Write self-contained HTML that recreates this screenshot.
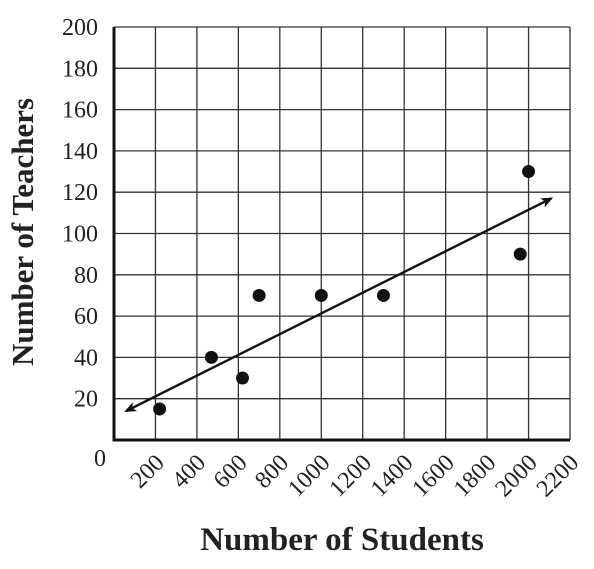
<!DOCTYPE html>
<html><head><meta charset="utf-8"><style>
body{margin:0;background:#fff}
text{font-family:"Liberation Serif",serif;fill:#222}
</style></head><body>
<svg id="c" width="594" height="564" viewBox="0 0 594 564">
<defs><marker id="ah" markerWidth="12" markerHeight="10" refX="10" refY="5" orient="auto-start-reverse" markerUnits="userSpaceOnUse"><path d="M0,0 L12,5 L0,10 L3,5 Z" fill="#111"/></marker></defs>
<g id="grid"></g><g id="pts"></g>
<text x="342" y="550" text-anchor="middle" font-size="33" font-weight="bold">Number of Students</text>
<text transform="translate(33,232) rotate(-90)" text-anchor="middle" font-size="31" font-weight="bold">Number of Teachers</text>
</svg>
<script>
const xTicks=[200,400,600,800,1000,1200,1400,1600,1800,2000,2200];
const yTicks=[0,20,40,60,80,100,120,140,160,180,200];
const studentsX=[220,470,620,700,1000,1300,1960,2000];
const teachersY=[15,40,30,70,70,70,90,130];
const trendX=[58,2110];
const trendY=[14,117];
const L=114,R=570,T=27,B=440;
const sx=v=>L+v/2200*(R-L), sy=v=>B-v/200*(B-T);
const NS="http://www.w3.org/2000/svg";
const g=document.getElementById('grid'), p=document.getElementById('pts');
function mk(t,a,par){const e=document.createElementNS(NS,t);for(const k in a)e.setAttribute(k,a[k]);par.appendChild(e);return e;}
xTicks.forEach(v=>{
 const l=mk('line',{x1:sx(v),x2:sx(v),y1:T,y2:B,stroke:'#333','stroke-width':1.3},g);
 
 
 const ax0=sx(v)+10, ay0=B+24;
 const t=mk('text',{x:ax0,y:ay0,'font-size':24,'text-anchor':'end',transform:`rotate(-45 ${ax0} ${ay0})`},g);
 t.textContent=v;
 
 
});
yTicks.forEach(v=>{
 if(v>0){const l=mk('line',{x1:L,x2:R,y1:sy(v),y2:sy(v),stroke:'#333','stroke-width':1.3},g);
 
 }
 const t=mk('text',{x:v===0?106:98,y:v===0?sy(v)+26:sy(v)+8,'font-size':24,'text-anchor':'end'},g);
 t.textContent=v;
 
 
});
const ax=mk('path',{d:`M${L},${T} V${B} H${R}`,fill:'none',stroke:'#111','stroke-width':3},g);


studentsX.forEach((v,i)=>{
 const c=mk('circle',{cx:sx(v),cy:sy(teachersY[i]),r:6.5,fill:'#111'},p);
 
 
});
const tl=mk('line',{x1:sx(trendX[0]),y1:sy(trendY[0]),x2:sx(trendX[1]),y2:sy(trendY[1]),stroke:'#111','stroke-width':2.4,'marker-start':'url(#ah)','marker-end':'url(#ah)'},p);


</script>
</body></html>
